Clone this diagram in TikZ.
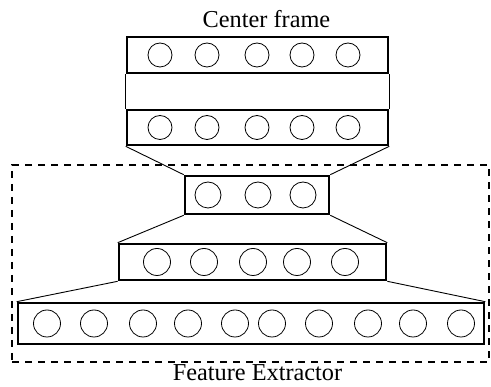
\documentclass[tikz,border=0pt]{standalone}
\usepackage{fontspec}
\setmainfont{Liberation Serif}
\usetikzlibrary{positioning}
\tikzstyle{layer} = [rectangle, line width = 2.6, draw = black, inner sep = 0]
\tikzstyle{unit} = [
  circle, minimum size = 27, inner sep = 0,
  line width = 0.8, draw = black
]
\tikzstyle{link} = [line width = 0.9]

\begin{document}
\begin{tikzpicture}[x = 1pt, y = -1pt, font = \fontsize{24.3}{29}\selectfont]
      \useasboundingbox (0, 0) rectangle (491, 387);

      % extractor area
      \node [draw = black, line width = 2.4, dash pattern = on 7 off 6,
        minimum width = 477, minimum height = 197] (extractor) at (250.5, 263.5) {};

      % layers
      \node [layer, minimum width = 261, minimum height = 36] (frame-a) at (257.5, 55) {};
      \node [layer, minimum width = 261, minimum height = 35] (frame-b) at (257.5, 127.5) {};
      \node [layer, minimum width = 144, minimum height = 38] (feat-0) at (257, 195) {};
      \node [layer, minimum width = 267, minimum height = 36] (feat-1) at (252.5, 262) {};
      \node [layer, minimum width = 466, minimum height = 41] (feat-2) at (251, 323.5) {};

      % units
      \foreach \x [count = \i] in {160, 207, 257, 302, 348} {
        \node [unit, minimum size = 24] (frame-a-\i) at (\x, 55) {};
        \node [unit, minimum size = 24] (frame-b-\i) at (\x, 127.5) {};
      }
      \foreach \x [count = \i] in {208, 258, 303}
        \node [unit, minimum size = 26] (feat-0-\i) at (\x, 195) {};
      \foreach \x [count = \i] in {157, 204, 253, 297, 345}
        \node [unit] (feat-1-\i) at (\x, 262) {};
      \foreach \x [count = \i] in {47, 94, 143, 188, 235, 272, 319, 368, 413, 461}
        \node [unit] (feat-2-\i) at (\x, 323.5) {};

      % links between layers
      \draw [link] (frame-a.south west) -- (frame-b.north west);
      \draw [link] (frame-a.south east) -- (frame-b.north east);
      \draw [link] (frame-b.south west) -- (feat-0.north west);
      \draw [link] (frame-b.south east) -- (feat-0.north east);
      \draw [link] (feat-0.south west) -- (feat-1.north west);
      \draw [link] (feat-0.south east) -- (feat-1.north east);
      \draw [link] (feat-1.south west) -- (feat-2.north west);
      \draw [link] (feat-1.south east) -- (feat-2.north east);

      % captions
      \node [anchor = base, inner sep = 0] (title) at (266.5, 28) {Center frame};
      \node [anchor = base, inner sep = 0] (caption) at (257.5, 381) {Feature Extractor};
    \end{tikzpicture}
\end{document}
